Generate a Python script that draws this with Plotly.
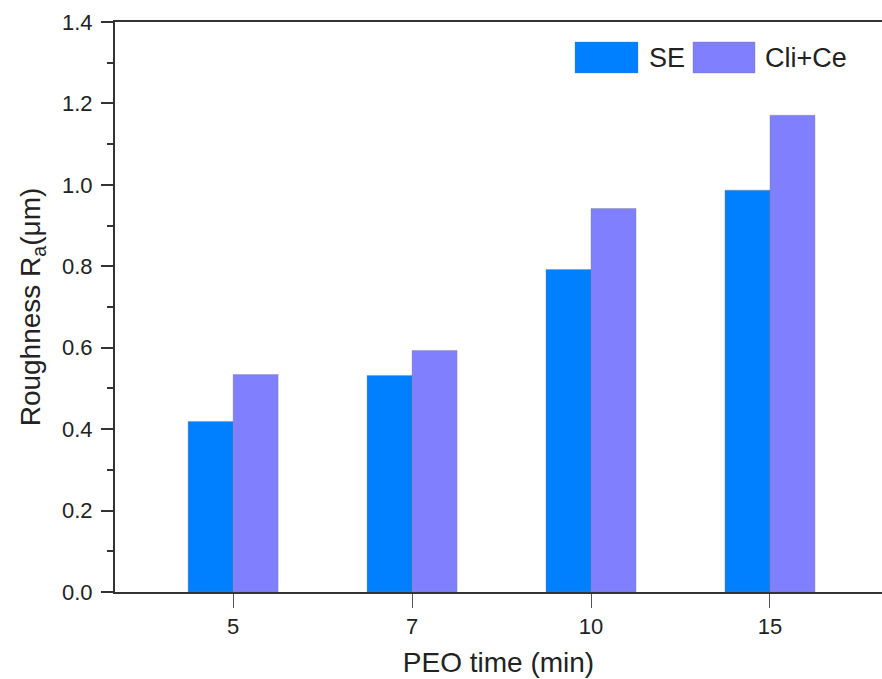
import plotly.graph_objects as go

categories = ["5", "7", "10", "15"]
se_values = [0.419, 0.532, 0.792, 0.987]
clice_values = [0.534, 0.593, 0.942, 1.171]
series_names = ["SE", "Cli+Ce"]
series_colors = ["#0080FF", "#8080FF"]
y_ticks = [0.0, 0.2, 0.4, 0.6, 0.8, 1.0, 1.2, 1.4]

W, H = 882, 679
L, R, T, B = 115, 0, 22, 87

fig = go.Figure()
for name, vals, col in zip(series_names, [se_values, clice_values], series_colors):
    fig.add_trace(go.Bar(
        x=categories, y=vals, name=name,
        marker=dict(color=col, line=dict(color="rgba(120,120,140,0.6)", width=0.6)),
        showlegend=False,
    ))

font_family = "Liberation Sans, Arial, sans-serif"
axis_col = "#333333"

fig.update_layout(
    width=W, height=H,
    margin=dict(l=L, r=R, t=T, b=B),
    paper_bgcolor="white", plot_bgcolor="white",
    barmode="group", bargap=0.497, bargroupgap=0,
    font=dict(family=font_family, color="#222222"),
)

fig.update_xaxes(
    type="category", range=[-0.66, 3.626],
    showline=True, linecolor=axis_col, linewidth=2, mirror=True,
    ticks="outside", ticklen=14, tickwidth=1.3, tickcolor="#555555",
    tickfont=dict(size=22), showgrid=False, zeroline=False,
    title=dict(text="PEO time (min)", font=dict(size=28), standoff=14),
)
fig.update_yaxes(
    range=[0, 1.4], tickvals=y_ticks, ticktext=[f"{v:.1f}" for v in y_ticks],
    showline=True, linecolor=axis_col, linewidth=2, mirror=False,
    ticks="outside", ticklen=12, tickwidth=2, tickcolor=axis_col,
    minor=dict(ticks="outside", ticklen=6, tickwidth=2, tickcolor=axis_col, dtick=0.1, showgrid=False),
    tickfont=dict(size=22), showgrid=False, zeroline=False, ticklabelstandoff=4,
    title=dict(text="Roughness R<sub>a</sub>(μm)", font=dict(size=28), standoff=13),
)

# Legend (custom, large swatches like the original)
pw = W - L - R
ph = H - T - B
def px2x(px):
    return (px - L) / pw
def py2y(py):
    return (H - B - py) / ph

legend_items = [(575, 638, 647), (693, 755, 763)]
for (x0, x1, tx), name, col in zip(legend_items, series_names, series_colors):
    fig.add_shape(type="rect", xref="paper", yref="paper",
                  x0=px2x(x0), x1=px2x(x1), y0=py2y(73), y1=py2y(42),
                  fillcolor=col, line=dict(color="rgba(120,120,140,0.6)", width=0.6))
    fig.add_annotation(text=name, xref="paper", yref="paper",
                       x=px2x(tx), y=py2y(58), xanchor="left", yanchor="middle",
                       showarrow=False, font=dict(size=27, color="#222222"))

fig.write_html("out.html")
